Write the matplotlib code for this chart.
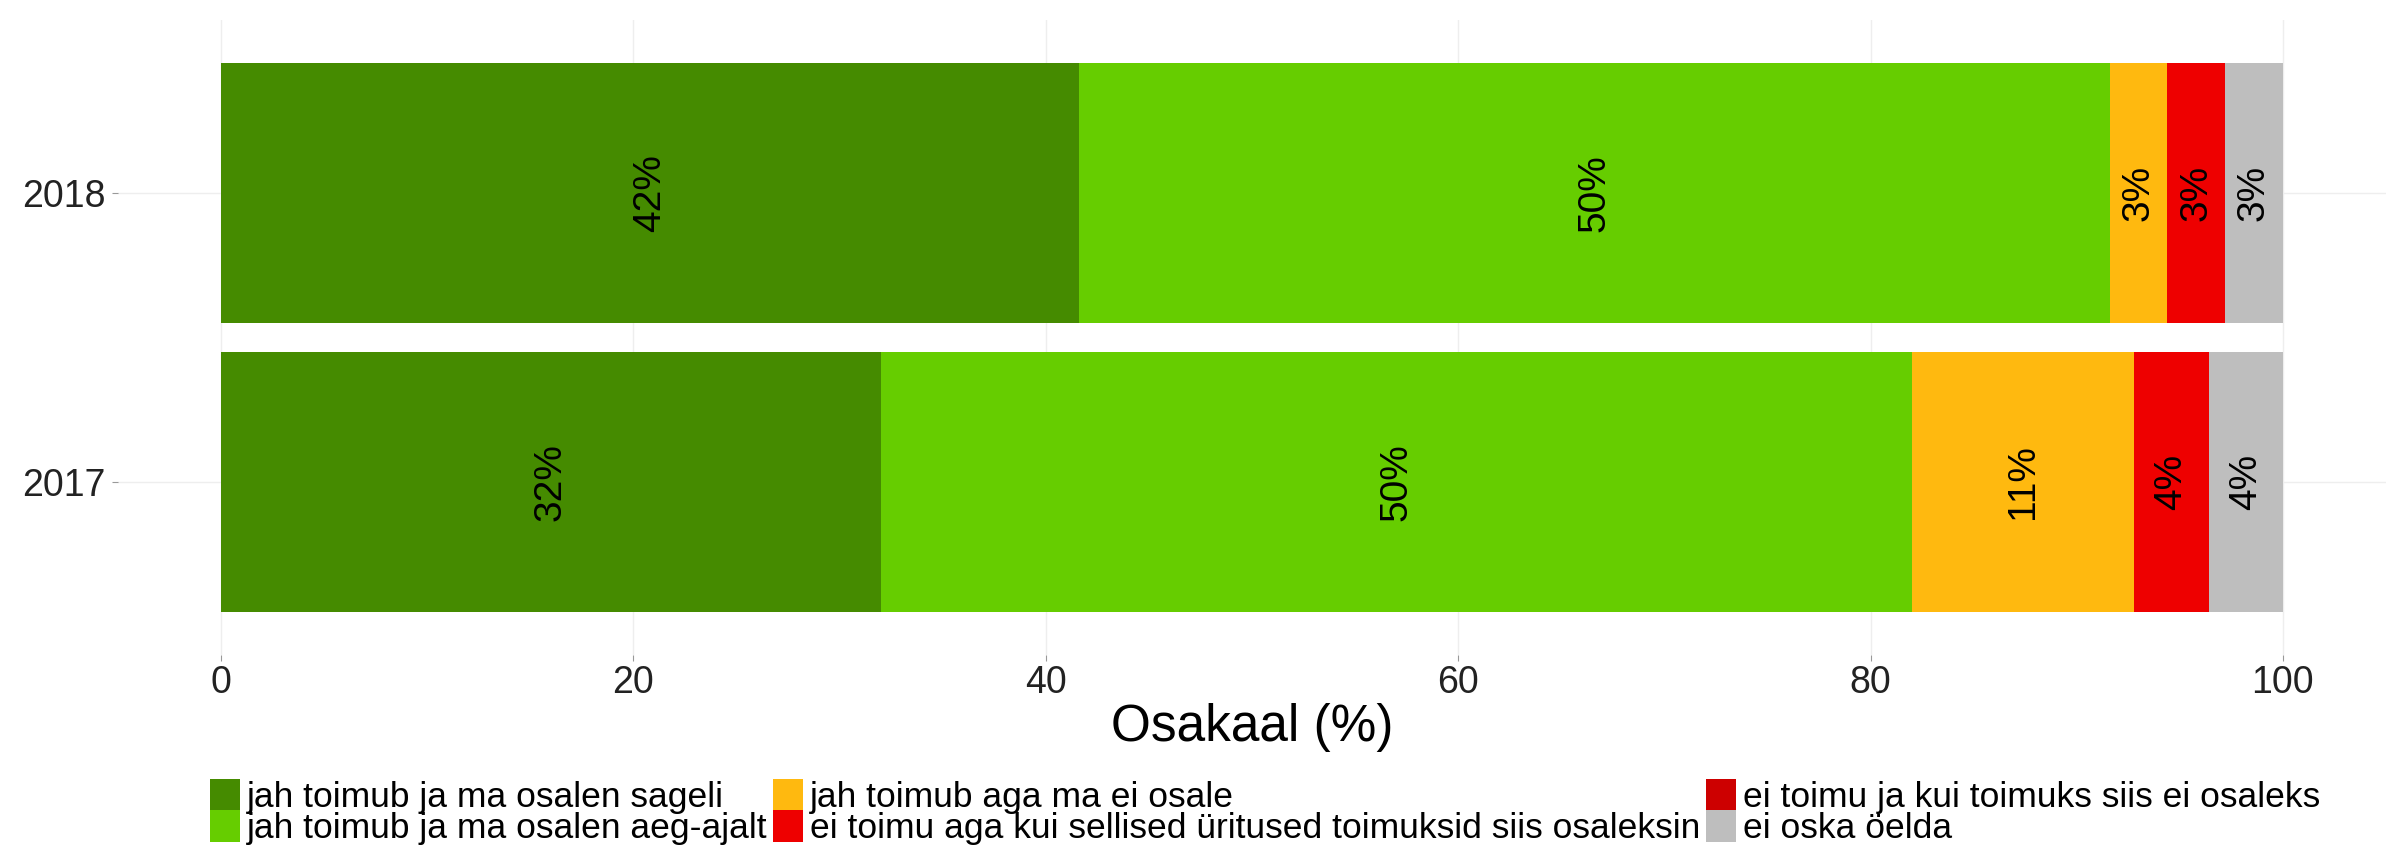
import matplotlib.pyplot as plt
import numpy as np

plt.rcParams['font.family'] = ['Liberation Sans', 'DejaVu Sans']

years = ['2017', '2018']
categories = [
    'jah toimub ja ma osalen sageli',
    'jah toimub ja ma osalen aeg-ajalt',
    'jah toimub aga ma ei osale',
    'ei toimu aga kui sellised üritused toimuksid siis osaleksin',
    'ei toimu ja kui toimuks siis ei osaleks',
    'ei oska öelda',
]
colors = ['#458B00', '#66CD00', '#FFB90F', '#EE0000', '#CD0000', '#BEBEBE']

# shares per year (2017, 2018), percent
sageli = [32.0, 41.6]
aeg_ajalt = [50.0, 50.0]
ei_osale = [10.8, 2.8]
osaleksin = [3.6, 2.8]
ei_osaleks = [0.0, 0.0]
ei_oska = [3.6, 2.8]

series = [sageli, aeg_ajalt, ei_osale, osaleksin, ei_osaleks, ei_oska]

fig = plt.figure(figsize=(24, 8.51), dpi=100)
ax = fig.add_axes([118 / 2400, 1 - 655 / 851, (2386 - 118) / 2400, 635 / 851])

ypos = np.arange(len(years))
left = np.zeros(len(years))
for name, vals, col in zip(categories, series, colors):
    vals = np.array(vals)
    ax.barh(ypos, vals, left=left, height=0.9, color=col, label=name, zorder=2)
    for y, l, v in zip(ypos, left, vals):
        if v > 0:
            ax.text(l + v / 2, y, f'{round(v):.0f}%', rotation=90,
                    ha='center', va='center', fontsize=28, color='black', zorder=3)
    left += vals

ax.set_xlim(-5, 105)
ax.set_ylim(-0.6, 1.6)
ax.set_xticks([0, 20, 40, 60, 80, 100])
ax.set_yticks(ypos)
ax.set_yticklabels(years)
ax.tick_params(axis='both', labelsize=27, length=4, width=0.8, color='#999999', labelcolor='#222222')
ax.tick_params(axis='y', pad=5)
ax.tick_params(axis='x', pad=3)
ax.grid(True, color='#EEEEEE', linewidth=1.0, zorder=0)
ax.set_axisbelow(True)
for s in ax.spines.values():
    s.set_visible(False)
ax.set_xlabel('Osakaal (%)', fontsize=37, labelpad=2)

fig.legend(loc='upper left', bbox_to_anchor=(210 / 2400, 1 - 779 / 851), ncol=3,
           frameon=False, fontsize=25.5, handlelength=0.85, handleheight=1.0,
           handletextpad=0.2, columnspacing=0.15, labelspacing=-0.1, borderpad=0,
           borderaxespad=0)

fig.savefig('out.png', dpi=100, facecolor='white')
